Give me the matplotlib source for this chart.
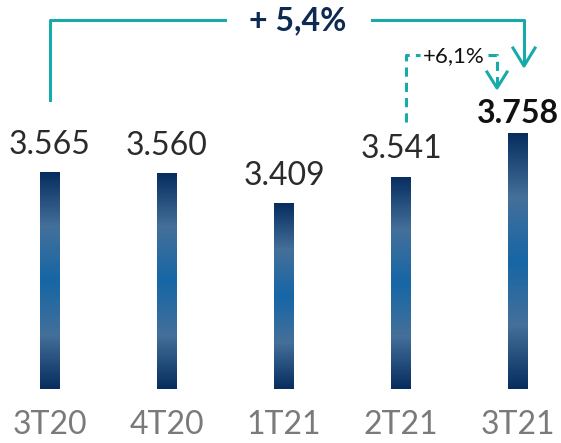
import numpy as np
import matplotlib
matplotlib.use('Agg')
import matplotlib.pyplot as plt
from matplotlib.colors import LinearSegmentedColormap

quarters = ['3T20', '4T20', '1T21', '2T21', '3T21']
values = [3565, 3560, 3409, 3541, 3758]
value_labels = ['3.565', '3.560', '3.409', '3.541', '3.758']
total_growth = '+ 5,4%'
quarter_growth = '+6,1%'

teal = '#17aaa9'
navy = '#0d2a52'

fig = plt.figure(figsize=(5.61, 4.43), dpi=100)
# axes covers the top part of the figure, tick labels go below
ax = fig.add_axes([0, 54 / 443, 1, 389 / 443])
ax.set_xlim(-50 / 117, (561 - 50) / 117)
ax.set_ylim(2480, 2480 + 389 * 5)
ax.axis('off')


def py(p):
    # pixel row (from top) -> data value
    return 2480 + (389 - p) * 5


def px(p):
    return (p - 50) / 117


# bar gradient: dark ends, grey-blue bands, saturated middle
cmap = LinearSegmentedColormap.from_list('bar', [
    (0.0, '#062d5e'), (0.25, '#44709a'), (0.5, '#1666a6'),
    (0.75, '#44709a'), (1.0, '#062d5e')])
grad = np.linspace(0, 1, 256).reshape(-1, 1)

bars = ax.bar(range(len(values)), values, width=20 / 117, bottom=0, color='none')
for b in bars:
    x0, w, h = b.get_x(), b.get_width(), b.get_height()
    im = ax.imshow(grad, cmap=cmap, aspect='auto',
                   extent=[x0, x0 + w, 2480, h], origin='lower', zorder=2)
    im.set_clip_path(b)

for i, (v, lab) in enumerate(zip(values, value_labels)):
    last = i == len(values) - 1
    ax.annotate(lab, (i, v), xytext=(0, 4 if last else 9), textcoords='offset points',
                ha='center', va='bottom', fontsize=23, family='Lato',
                weight='bold' if last else 'normal',
                color='#111111' if last else '#2b2b2b')

for i, q in enumerate(quarters):
    fig.text((50 + 117 * i) / 561, 18 / 443, q, ha='center', va='center',
             fontsize=23, family='Lato', weight='normal', color='#7a7a7a')

# overall growth arrow
ax.plot([px(50), px(50), px(225)], [py(100), py(20), py(20)], color=teal, lw=2.2)
ax.plot([px(372), px(524), px(524)], [py(20), py(20), py(64)], color=teal, lw=2.2)
ax.plot([px(513), px(524), px(535)], [py(48), py(66), py(48)], color=teal, lw=2.2)
ax.text(px(298), py(21), total_growth, ha='center', va='center', fontsize=23,
        family='Lato', weight='bold', color=navy)

# quarter growth arrow (dashed)
ax.plot([px(406), px(406), px(420)], [py(122), py(55), py(55)], color=teal, lw=2.2,
        ls=(0, (3, 2)))
ax.plot([px(488), px(497), px(497)], [py(55), py(55), py(86)], color=teal, lw=2.2,
        ls=(0, (3, 2)))
ax.plot([px(487), px(497), px(507)], [py(72), py(88), py(72)], color=teal, lw=2.2)
ax.text(px(454), py(56), quarter_growth, ha='center', va='center', fontsize=16,
        family='Lato', color='#111111')

fig.savefig('out.png', dpi=100)
